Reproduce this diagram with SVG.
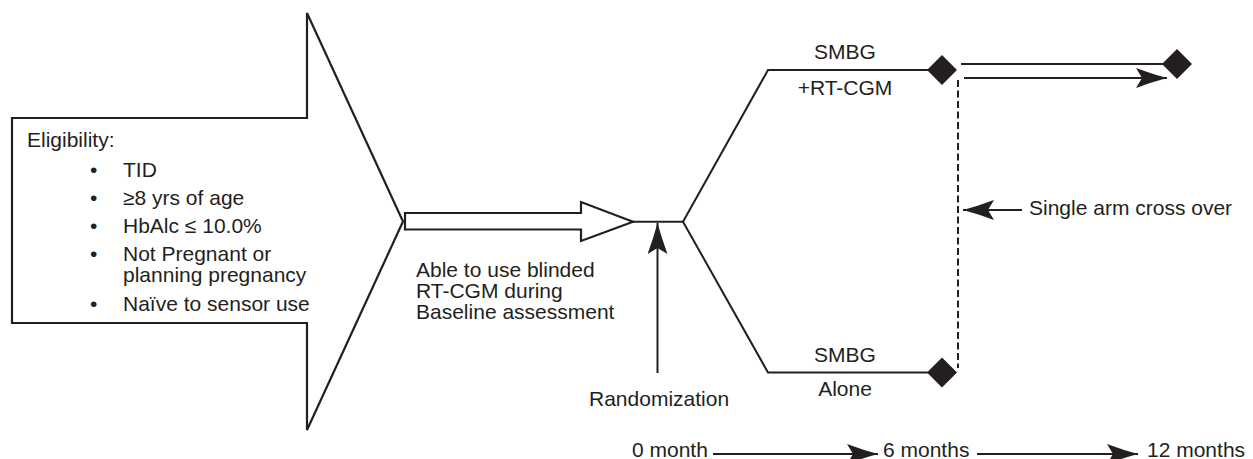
<svg xmlns="http://www.w3.org/2000/svg" width="1253" height="459" viewBox="0 0 1253 459">
<style>
.t{font-family:"Liberation Sans",Arial,sans-serif;font-size:21px;fill:#231f20}
.c{text-anchor:middle}
.s{fill:none;stroke:#231f20;stroke-width:2}
.o{fill:#fff;stroke:#231f20;stroke-width:2.2;stroke-linejoin:miter}
.d{fill:#231f20}
.dash{fill:none;stroke:#231f20;stroke-width:2;stroke-dasharray:7 3.5}
</style>
<defs>
<marker id="ah" viewBox="-31 -10 31 20" refX="0" refY="0" markerWidth="31" markerHeight="20" markerUnits="userSpaceOnUse" orient="auto">
<path d="M0,0 Q-15,-4 -31,-10 L-25,0 L-31,10 Q-15,4 0,0 Z" fill="#231f20"/>
</marker>
<path id="dia" d="M0,-15 L15,0 L0,15 L-15,0 Z"/>
</defs>
<rect width="1253" height="459" fill="#fff"/>

<g id="eligibility">
<polygon class="o" points="12,118 307,118 307,13 403,221.5 307,430 307,323 12,323"/>
<text class="t" x="27" y="147">Eligibility:</text>
<text class="t" x="90" y="177">•</text><text class="t" x="123" y="177">TID</text>
<text class="t" x="90" y="205">•</text><text class="t" x="123" y="205">≥8 yrs of age</text>
<text class="t" x="90" y="233">•</text><text class="t" x="123" y="233">HbAlc ≤ 10.0%</text>
<text class="t" x="90" y="261">•</text><text class="t" x="123" y="261">Not Pregnant or</text>
<text class="t" x="123" y="282">planning pregnancy</text>
<text class="t" x="90" y="311">•</text><text class="t" x="123" y="311">Naïve to sensor use</text>
</g>

<g id="baseline">
<polygon class="o" points="405,213 581,213 581,202 633,221.7 581,241 581,229.5 405,229.5"/>
<text class="t" x="416" y="277">Able to use blinded</text>
<text class="t" x="416" y="298">RT-CGM during</text>
<text class="t" x="416" y="319">Baseline assessment</text>
</g>

<g id="randomization">
<text class="t" x="589" y="406">Randomization</text>
</g>

<g id="arm-rtcgm">
<text class="t c" x="845" y="59">SMBG</text>
<text class="t c" x="845" y="95">+RT-CGM</text>
<use href="#dia" class="d" x="942" y="70"/>
</g>

<g id="arm-alone">
<text class="t c" x="845" y="362">SMBG</text>
<text class="t c" x="845" y="396">Alone</text>
<use href="#dia" class="d" x="942" y="372.5"/>
</g>

<g id="end12">
<use href="#dia" class="d" x="1177" y="64"/>
</g>

<g id="crossover">
<text class="t" x="1029" y="215">Single arm cross over</text>
</g>

<g id="timeline">
<text class="t" x="632" y="457">0 month</text>
<text class="t" x="883" y="457">6 months</text>
<text class="t" x="1147" y="457">12 months</text>
</g>

<g id="connectors">
<line class="s" x1="633" y1="221.7" x2="683" y2="221.7" stroke-width="1.6"/>
<polyline class="s" points="683,221.7 768,70 930,70"/>
<polyline class="s" points="683,221.7 768,372.5 930,372.5"/>
<line class="s" x1="657.5" y1="373" x2="657.5" y2="223" marker-end="url(#ah)"/>
<line class="s" x1="961" y1="64" x2="1165" y2="64"/>
<line class="s" x1="964" y1="78" x2="1167" y2="78" marker-end="url(#ah)"/>
<line class="dash" x1="958" y1="80" x2="958" y2="368"/>
<line class="s" x1="1022" y1="210" x2="963" y2="210" marker-end="url(#ah)"/>
<line class="s" x1="713" y1="454" x2="878" y2="454" marker-end="url(#ah)"/>
<line class="s" x1="977" y1="454" x2="1138" y2="454" marker-end="url(#ah)"/>
</g>
</svg>
